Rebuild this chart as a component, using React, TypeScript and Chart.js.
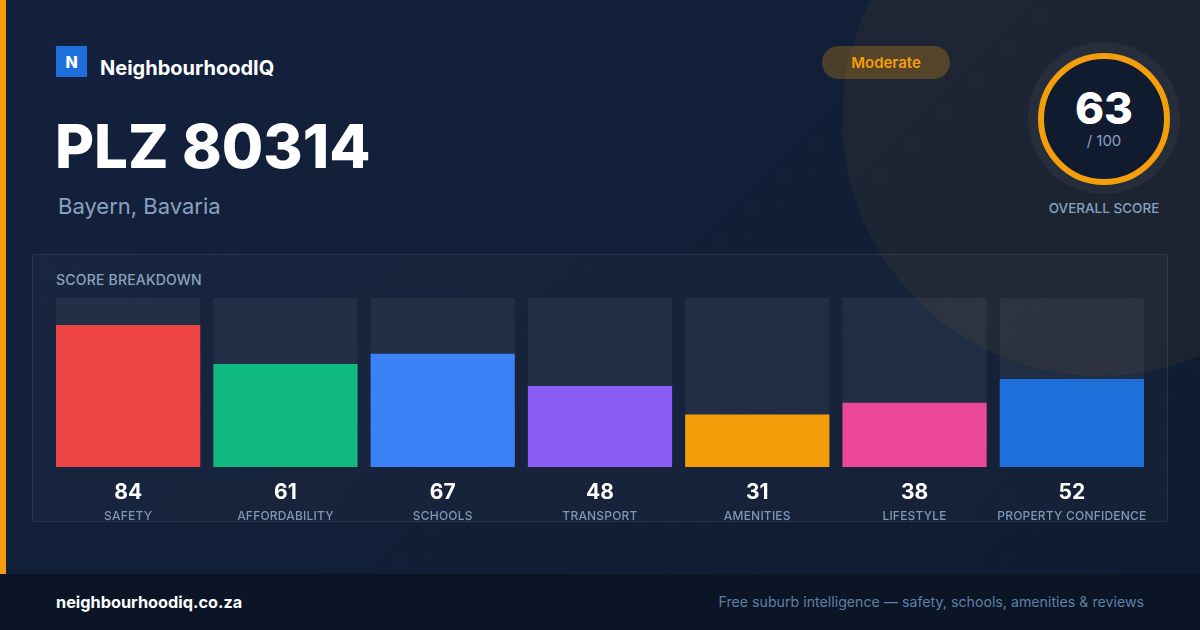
import React, { useEffect, useRef } from "react";
import { Chart, registerables } from "chart.js";

Chart.register(...registerables);

const categories = ["SAFETY", "AFFORDABILITY", "SCHOOLS", "TRANSPORT", "AMENITIES", "LIFESTYLE", "PROPERTY CONFIDENCE"];
const scores = [84, 61, 67, 48, 31, 38, 52];
const trackMax = [100, 100, 100, 100, 100, 100, 100];
const barColors = ["#ef4444", "#10b981", "#3b82f6", "#8b5cf6", "#f59e0b", "#ec4899", "#1e6fd9"];
const overallScore = 63;
const overallMax = 100;

const FONT = "Inter, 'Noto Sans', sans-serif";

const labelPlugin = {
  id: "scoreLabels",
  afterDatasetsDraw(chart: any) {
    const { ctx, chartArea } = chart;
    const meta = chart.getDatasetMeta(1);
    ctx.save();
    ctx.textAlign = "center";
    ctx.textBaseline = "middle";
    meta.data.forEach((bar: any, i: number) => {
      ctx.fillStyle = "#ffffff";
      ctx.font = `700 21px ${FONT}`;
      ctx.fillText(String(scores[i]), bar.x, chartArea.bottom + 26);
      ctx.fillStyle = "#7f97b6";
      ctx.font = `500 12px ${FONT}`;
      (ctx as any).letterSpacing = "0.2px";
      ctx.fillText(categories[i], bar.x, chartArea.bottom + 49);
      (ctx as any).letterSpacing = "0px";
    });
    ctx.restore();
  },
};

function BarChart() {
  const ref = useRef<HTMLCanvasElement>(null);
  useEffect(() => {
    if (!ref.current) return;
    const chart = new Chart(ref.current, {
      type: "bar",
      data: {
        labels: categories,
        datasets: [
          {
            data: trackMax,
            backgroundColor: "rgba(255,255,255,0.05)",
            grouped: false,
            order: 2,
            barPercentage: 0.917,
            categoryPercentage: 1,
          } as any,
          {
            data: scores,
            backgroundColor: barColors,
            grouped: false,
            order: 1,
            barPercentage: 0.917,
            categoryPercentage: 1,
          } as any,
        ],
      },
      options: {
        animation: false,
        responsive: false,
        layout: { padding: { left: 49.5, right: 49.5, top: 8, bottom: 63 } },
        plugins: { legend: { display: false }, tooltip: { enabled: false } },
        scales: {
          x: { display: false },
          y: { display: false, min: 0, max: 100 },
        },
      },
      plugins: [labelPlugin],
    });
    return () => chart.destroy();
  }, []);
  return (
    <canvas
      ref={ref}
      width={1200}
      height={240}
      style={{ position: "absolute", left: 0, top: 290, width: 1200, height: 240 }}
    />
  );
}

export default function App() {
  return (
    <div
      style={{
        position: "fixed",
        left: 0,
        top: 0,
        width: 1200,
        height: 630,
        overflow: "hidden",
        fontFamily: FONT,
        background: "linear-gradient(135deg, #13213d 0%, #111e36 60%, #0f1b31 100%)",
      }}
    >
      <div
        style={{
          position: "absolute",
          inset: 0,
          backgroundImage: "radial-gradient(rgba(255,255,255,0.035) 1px, transparent 1.2px)",
          backgroundSize: "32px 32px",
        }}
      />
      {/* big decorative circle */}
      <div
        style={{
          position: "absolute",
          left: 1100 - 258,
          top: 118 - 258,
          width: 516,
          height: 516,
          borderRadius: "50%",
          background: "rgba(245,158,11,0.055)",
        }}
      />
      {/* left stripe */}
      <div style={{ position: "absolute", left: 0, top: 0, width: 6, height: 574, background: "#f59e0b" }} />

      {/* logo */}
      <div
        style={{
          position: "absolute",
          left: 56,
          top: 46,
          width: 31,
          height: 31,
          background: "#1d6fdc",
          color: "#fff",
          fontWeight: 800,
          fontSize: 16,
          display: "flex",
          alignItems: "center",
          justifyContent: "center",
        }}
      >
        N
      </div>
      <div style={{ position: "absolute", left: 100, top: 55, fontSize: 20, fontWeight: 700, color: "#fff", lineHeight: "26px" }}>
        NeighbourhoodIQ
      </div>

      <div style={{ position: "absolute", left: 55, top: 110, fontSize: 60, fontWeight: 800, color: "#fff", lineHeight: "72px" }}>
        PLZ 80314
      </div>
      <div style={{ position: "absolute", left: 58, top: 192, fontSize: 22, fontWeight: 400, color: "#8aa2c0", lineHeight: "28px" }}>
        Bayern, Bavaria
      </div>

      {/* badge */}
      <div
        style={{
          position: "absolute",
          left: 822,
          top: 46,
          width: 128,
          height: 33,
          borderRadius: 17,
          background: "rgba(245,158,11,0.26)",
          color: "#f59e0b",
          fontSize: 15,
          fontWeight: 600,
          display: "flex",
          alignItems: "center",
          justifyContent: "center",
        }}
      >
        Moderate
      </div>

      {/* overall score */}
      <div
        style={{
          position: "absolute",
          left: 1104 - 76,
          top: 118 - 76,
          width: 152,
          height: 152,
          borderRadius: "50%",
          background: "rgba(255,255,255,0.045)",
        }}
      />
      <div
        style={{
          position: "absolute",
          left: 1104 - 66,
          top: 119 - 66,
          width: 132,
          height: 132,
          boxSizing: "border-box",
          borderRadius: "50%",
          border: "6px solid #f59e0b",
          background: "#111b2f",
        }}
      />
      <div
        style={{
          position: "absolute",
          left: 1104 - 60,
          top: 84,
          width: 120,
          textAlign: "center",
          fontSize: 44,
          fontWeight: 800,
          color: "#fff",
          lineHeight: "48px",
        }}
      >
        {overallScore}
      </div>
      <div
        style={{
          position: "absolute",
          left: 1104 - 60,
          top: 131,
          width: 120,
          textAlign: "center",
          fontSize: 15,
          color: "#8aa2c0",
          lineHeight: "20px",
        }}
      >
        / {overallMax}
      </div>
      <div
        style={{
          position: "absolute",
          left: 1104 - 80,
          top: 199,
          width: 160,
          textAlign: "center",
          fontSize: 13.5,
          fontWeight: 500,
          color: "#8aa2c0",
          lineHeight: "18px",
        }}
      >
        OVERALL SCORE
      </div>

      {/* panel */}
      <div
        style={{
          position: "absolute",
          left: 32,
          top: 254,
          width: 1136,
          height: 268,
          boxSizing: "border-box",
          border: "1px solid rgba(255,255,255,0.08)",
          borderRadius: 3,
          background: "rgba(255,255,255,0.025)",
        }}
      />
      <div
        style={{
          position: "absolute",
          left: 56,
          top: 271,
          fontSize: 14,
          fontWeight: 500,
          color: "#8aa2c0",
          lineHeight: "18px",
          letterSpacing: 0.2,
        }}
      >
        SCORE BREAKDOWN
      </div>

      <BarChart />

      {/* footer */}
      <div style={{ position: "absolute", left: 0, top: 574, width: 1200, height: 56, background: "#0b1526" }} />
      <div style={{ position: "absolute", left: 56, top: 592, fontSize: 16.3, fontWeight: 700, color: "#fff", lineHeight: "20px" }}>
        neighbourhoodiq.co.za
      </div>
      <div
        style={{
          position: "absolute",
          right: 56,
          top: 592,
          fontSize: 14.2,
          color: "#5f7fa6",
          lineHeight: "20px",
        }}
      >
        Free suburb intelligence — safety, schools, amenities &amp; reviews
      </div>
    </div>
  );
}
